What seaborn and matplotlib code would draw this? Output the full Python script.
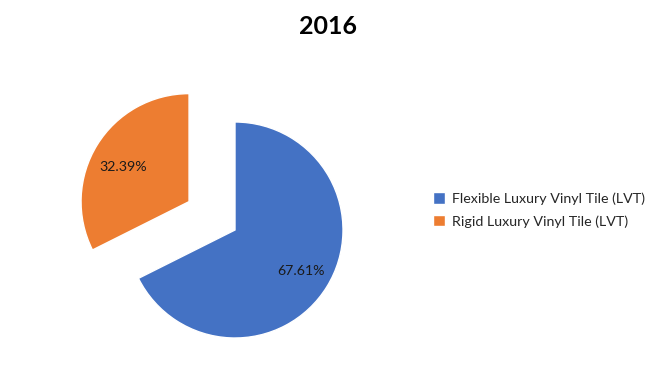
import matplotlib
matplotlib.use("Agg")
import matplotlib.pyplot as plt
import seaborn as sns

categories = ["Flexible Luxury Vinyl Tile (LVT)", "Rigid Luxury Vinyl Tile (LVT)"]
shares = [67.61, 32.39]
palette = ["#4472C4", "#ED7D31"]
title = "2016"

sns.set_theme(style="white")
plt.rcParams["font.family"] = ["Lato", "DejaVu Sans"]

W, H = 658, 386
fig = plt.figure(figsize=(W / 100, H / 100), dpi=100)

# pie centre ~ (235, 230) px from top-left, radius ~108 px
r_px = 108
cx, cy = 235, H - 230
xl, yl = 1.6, 1.4
ax = fig.add_axes([(cx - xl * r_px) / W, (cy - yl * r_px) / H,
                   2 * xl * r_px / W, 2 * yl * r_px / H])

wedges, _, autotexts = ax.pie(
    shares,
    colors=sns.color_palette(palette),
    startangle=90,
    counterclock=False,
    explode=[0, 0.5],
    autopct="%.2f%%",
    pctdistance=0.72,
    textprops={"fontsize": 10.2, "color": "#1a1a1a"},
)
# orange label sits a little lower in the original
x, y = autotexts[1].get_position()
autotexts[1].set_position((x, y - 0.06))
ax.set_xlim(-xl, xl)
ax.set_ylim(-yl, yl)
ax.set_aspect("auto")
ax.axis("off")

fig.text(328 / W, 1 - 27 / H, title, ha="center", va="center",
         fontsize=18, fontweight="bold", color="black")

fig.legend(wedges, categories, loc="center left",
           bbox_to_anchor=(420 / W, 1 - 210 / H), frameon=False,
           fontsize=10.3, handlelength=0.85, handleheight=0.85,
           handletextpad=0.5, labelspacing=0.7, labelcolor="#262626")

fig.savefig("out.png", dpi=100)
